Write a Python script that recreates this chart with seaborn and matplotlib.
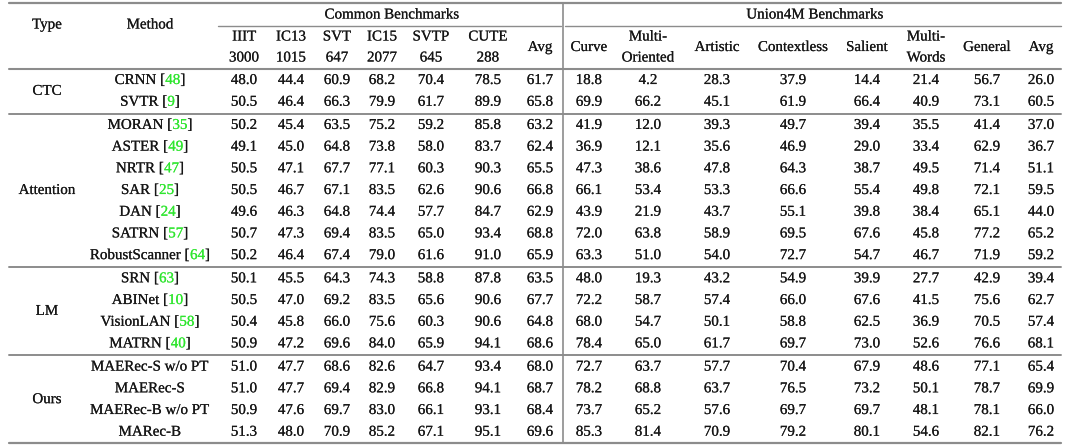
import matplotlib
matplotlib.use("Agg")
import matplotlib.pyplot as plt
import matplotlib.patheffects as pe
import seaborn as sns

# ---------------- DATA ----------------
types = ["CTC", "Attention", "LM", "Ours"]
group_sizes = [2, 7, 4, 4]

methods = ["CRNN", "SVTR", "MORAN", "ASTER", "NRTR", "SAR", "DAN", "SATRN",
           "RobustScanner", "SRN", "ABINet", "VisionLAN", "MATRN",
           "MAERec-S w/o PT", "MAERec-S", "MAERec-B w/o PT", "MARec-B"]
refs = ["48", "9", "35", "49", "47", "25", "24", "57", "64", "63", "10", "58", "40",
        None, None, None, None]

common_top = ["IIIT", "IC13", "SVT", "IC15", "SVTP", "CUTE", "Avg"]
common_bottom = ["3000", "1015", "647", "2077", "645", "288", ""]
union_top = ["Curve", "Multi-", "Artistic", "Contextless", "Salient", "Multi-", "General", "Avg"]
union_bottom = ["", "Oriented", "", "", "", "Words", "", ""]

common = [
    [48.0, 44.4, 60.9, 68.2, 70.4, 78.5, 61.7],
    [50.5, 46.4, 66.3, 79.9, 61.7, 89.9, 65.8],
    [50.2, 45.4, 63.5, 75.2, 59.2, 85.8, 63.2],
    [49.1, 45.0, 64.8, 73.8, 58.0, 83.7, 62.4],
    [50.5, 47.1, 67.7, 77.1, 60.3, 90.3, 65.5],
    [50.5, 46.7, 67.1, 83.5, 62.6, 90.6, 66.8],
    [49.6, 46.3, 64.8, 74.4, 57.7, 84.7, 62.9],
    [50.7, 47.3, 69.4, 83.5, 65.0, 93.4, 68.8],
    [50.2, 46.4, 67.4, 79.0, 61.6, 91.0, 65.9],
    [50.1, 45.5, 64.3, 74.3, 58.8, 87.8, 63.5],
    [50.5, 47.0, 69.2, 83.5, 65.6, 90.6, 67.7],
    [50.4, 45.8, 66.0, 75.6, 60.3, 90.6, 64.8],
    [50.9, 47.2, 69.6, 84.0, 65.9, 94.1, 68.6],
    [51.0, 47.7, 68.6, 82.6, 64.7, 93.4, 68.0],
    [51.0, 47.7, 69.4, 82.9, 66.8, 94.1, 68.7],
    [50.9, 47.6, 69.7, 83.0, 66.1, 93.1, 68.4],
    [51.3, 48.0, 70.9, 85.2, 67.1, 95.1, 69.6],
]
union = [
    [18.8, 4.2, 28.3, 37.9, 14.4, 21.4, 56.7, 26.0],
    [69.9, 66.2, 45.1, 61.9, 66.4, 40.9, 73.1, 60.5],
    [41.9, 12.0, 39.3, 49.7, 39.4, 35.5, 41.4, 37.0],
    [36.9, 12.1, 35.6, 46.9, 29.0, 33.4, 62.9, 36.7],
    [47.3, 38.6, 47.8, 64.3, 38.7, 49.5, 71.4, 51.1],
    [66.1, 53.4, 53.3, 66.6, 55.4, 49.8, 72.1, 59.5],
    [43.9, 21.9, 43.7, 55.1, 39.8, 38.4, 65.1, 44.0],
    [72.0, 63.8, 58.9, 69.5, 67.6, 45.8, 77.2, 65.2],
    [63.3, 51.0, 54.0, 72.7, 54.7, 46.7, 71.9, 59.2],
    [48.0, 19.3, 43.2, 54.9, 39.9, 27.7, 42.9, 39.4],
    [72.2, 58.7, 57.4, 66.0, 67.6, 41.5, 75.6, 62.7],
    [68.0, 54.7, 50.1, 58.8, 62.5, 36.9, 70.5, 57.4],
    [78.4, 65.0, 61.7, 69.7, 73.0, 52.6, 76.6, 68.1],
    [72.7, 63.7, 57.7, 70.4, 67.9, 48.6, 77.1, 65.4],
    [78.2, 68.8, 63.7, 76.5, 73.2, 50.1, 78.7, 69.9],
    [73.7, 65.2, 57.6, 69.7, 69.7, 48.1, 78.1, 66.0],
    [85.3, 81.4, 70.9, 79.2, 80.1, 54.6, 82.1, 76.2],
]

# ---------------- LAYOUT ----------------
sns.set_theme(style="white")
plt.rcParams["font.family"] = ["Liberation Serif", "DejaVu Serif"]
FS = 10.8
INK = "#161616"
RULE = "#8c8c8c"
GREEN = "#2ee62e"

fig = plt.figure(figsize=(10.74, 4.48), dpi=100)
ax = fig.add_axes([0, 0, 1, 1])
ax.set_xlim(0, 1074)
ax.set_ylim(448, 0)
ax.axis("off")


def put(x, y, s, color=INK, ha="center"):
    fx = [pe.withStroke(linewidth=0.12, foreground=color)]
    return ax.text(x, y, s, ha=ha, va="center", fontsize=FS, color=color, path_effects=fx)


type_x = 47
method_x = 150
common_x = [244, 291, 337, 382, 431, 488, 540]
union_x = [589, 648, 717, 793, 867, 926, 987, 1041]
row_y0 = 80.5
row_h = 21.7
group_gap = 1.5

row_ys = []
y = row_y0
for gi, n in enumerate(group_sizes):
    for k in range(n):
        row_ys.append(y)
        y += row_h
    y += group_gap

# header
put(type_x, 25, "Type")
put(method_x, 25, "Method")
put((common_x[0] + common_x[-1]) / 2, 15, "Common Benchmarks")
put((union_x[0] + union_x[-1]) / 2, 15, "Union4M Benchmarks")
for xs, tops, bots in [(common_x, common_top, common_bottom), (union_x, union_top, union_bottom)]:
    for x, t, b in zip(xs, tops, bots):
        if b:
            put(x, 37, t)
            put(x, 58, b)
        else:
            put(x, 47.5, t)

# rules
L, R = 9, 1061
ax.plot([L, R], [3.5, 3.5], color=RULE, lw=1.6)
ax.plot([218, 561], [26, 26], color=RULE, lw=1.0)
ax.plot([565, R], [26, 26], color=RULE, lw=1.0)
ax.plot([L, R], [69.5, 69.5], color=RULE, lw=1.5)
ax.plot([563, 563], [3.5, 443], color=RULE, lw=1.2)
ax.plot([L, R], [443, 443], color=RULE, lw=1.6)

# body
renderer = fig.canvas.get_renderer()
inv = ax.transData.inverted()


def width_of(s):
    t = ax.text(0, 0, s, fontsize=FS, alpha=0)
    bb = t.get_window_extent(renderer)
    t.remove()
    return inv.transform((bb.x1, 0))[0] - inv.transform((bb.x0, 0))[0]


idx = 0
for gi, n in enumerate(group_sizes):
    ys = row_ys[idx:idx + n]
    put(type_x, (ys[0] + ys[-1]) / 2, types[gi])
    for r in range(idx, idx + n):
        yy = row_ys[r]
        if refs[r] is None:
            put(method_x, yy, methods[r])
        else:
            head = methods[r] + " ["
            whole = head + refs[r] + "]"
            x0 = method_x - width_of(whole) / 2
            put(x0, yy, head, ha="left")
            put(x0 + width_of(head + "0") - width_of("0"), yy, refs[r], color=GREEN, ha="left")
            put(x0 + width_of(head + refs[r] + "]") - width_of("]"), yy, "]", ha="left")
        for x, v in zip(common_x, common[r]):
            put(x, yy, f"{v:.1f}")
        for x, v in zip(union_x, union[r]):
            put(x, yy, f"{v:.1f}")
    idx += n
    if gi < len(group_sizes) - 1:
        sep = row_ys[idx - 1] + (row_h + group_gap) / 2
        ax.plot([L, R], [sep, sep], color=RULE, lw=1.4)

fig.savefig("out.png", dpi=100, facecolor="white")
